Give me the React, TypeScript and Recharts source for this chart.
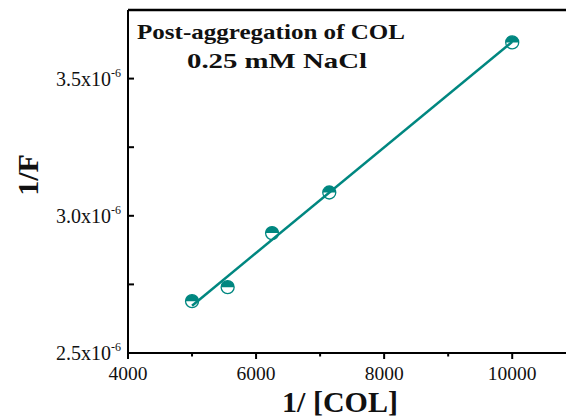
import React from 'react';
import { ScatterChart, Scatter, XAxis, YAxis, ReferenceLine, Customized } from 'recharts';

const invCol = [5000, 5556, 6250, 7143, 10000];
const invF = [2.689e-6, 2.740e-6, 2.937e-6, 3.085e-6, 3.632e-6];

const xTicks = [4000, 5000, 6000, 7000, 8000, 9000, 10000];
const xTickLabels = ['4000', '', '6000', '', '8000', '', '10000'];
const yTicks = [2.5e-6, 2.75e-6, 3.0e-6, 3.25e-6, 3.5e-6];
const yTickLabels = ['2.5x10', '', '3.0x10', '', '3.5x10'];

const TEAL = '#008780';
const FONT = '"Liberation Serif", "Times New Roman", serif';

const points = invCol.map((x, i) => ({ x, y: invF[i] }));

// least squares fit through the points
const fit = (() => {
  const n = invCol.length;
  const mx = invCol.reduce((a, b) => a + b, 0) / n;
  const my = invF.reduce((a, b) => a + b, 0) / n;
  let sxy = 0;
  let sxx = 0;
  invCol.forEach((x, i) => {
    sxy += (x - mx) * (invF[i] - my);
    sxx += (x - mx) * (x - mx);
  });
  const slope = sxy / sxx;
  const x0 = invCol[0];
  const x1 = invCol[n - 1];
  return [
    { x: x0, y: my + slope * (x0 - mx) },
    { x: x1, y: my + slope * (x1 - mx) },
  ];
})();

const HalfCircle = (props: any) => {
  const { cx, cy } = props;
  const r = 6.5;
  return (
    <g>
      <circle cx={cx} cy={cy} r={r} fill="#fff" stroke={TEAL} strokeWidth={1.3} />
      <path d={`M${cx - r},${cy} A${r},${r} 0 0 1 ${cx + r},${cy} Z`} fill={TEAL} />
    </g>
  );
};

const XTick = (props: any) => {
  const { x, y, index } = props;
  const label = xTickLabels[index];
  const len = label ? 6 : 3.5;
  return (
    <g>
      <line x1={x} y1={y} x2={x} y2={y + len} stroke="#000" strokeWidth={2} />
      {label && (
        <text x={x} y={y + 27} textAnchor="middle" fontFamily={FONT} fontSize={19.5} fill="#111">
          {label}
        </text>
      )}
    </g>
  );
};

const YTick = (props: any) => {
  const { x, y, index } = props;
  const label = yTickLabels[index];
  return (
    <g>
      <line x1={x} y1={y} x2={x + 6} y2={y} stroke="#000" strokeWidth={2} />
      {label && (
        <text x={x - 7} y={y + 7} textAnchor="end" fontFamily={FONT} fontSize={20} fill="#111">
          {label}
          <tspan dy={-9} fontSize={12}>-6</tspan>
        </text>
      )}
    </g>
  );
};

const Titles = () => (
  <g fontFamily={FONT} fontWeight="bold" fill="#111">
    <text x={137} y={39} fontSize={22} textLength={268} lengthAdjust="spacingAndGlyphs">
      Post-aggregation of COL
    </text>
    <text x={187} y={68} fontSize={22} textLength={180} lengthAdjust="spacingAndGlyphs">
      0.25 mM NaCl
    </text>
    <text x={340} y={412} fontSize={30} textAnchor="middle">1/ [COL]</text>
    <text x={38} y={175} fontSize={30} textAnchor="middle" transform="rotate(-90, 38, 175)">1/F</text>
  </g>
);

export default function App() {
  return (
    <div style={{ position: 'absolute', left: 0, top: 0, width: 566, height: 419, background: '#fff', overflow: 'hidden' }}>
      <ScatterChart width={566} height={419} margin={{ top: 10, right: 0, bottom: 0, left: 0 }}>
        <XAxis
          type="number"
          dataKey="x"
          domain={[4000, 10840]}
          ticks={xTicks}
          allowDataOverflow
          height={66}
          axisLine={{ stroke: '#000', strokeWidth: 2 }}
          tickLine={false}
          tickSize={0}
          tickMargin={0}
          tick={<XTick />}
          interval={0}
        />
        <YAxis
          type="number"
          dataKey="y"
          domain={[2.5e-6, 3.75e-6]}
          ticks={yTicks}
          allowDataOverflow
          width={128}
          axisLine={{ stroke: '#000', strokeWidth: 2 }}
          tickLine={false}
          tickSize={0}
          tickMargin={0}
          tick={<YTick />}
          interval={0}
        />
        <ReferenceLine y={3.75e-6} stroke="#000" strokeWidth={2.5} />
        <Scatter data={points} shape={<HalfCircle />} isAnimationActive={false} />
        <Scatter
          data={fit}
          line={{ stroke: TEAL, strokeWidth: 2.5 }}
          shape={() => null}
          isAnimationActive={false}
        />
        <Customized component={<Titles />} />
      </ScatterChart>
    </div>
  );
}
